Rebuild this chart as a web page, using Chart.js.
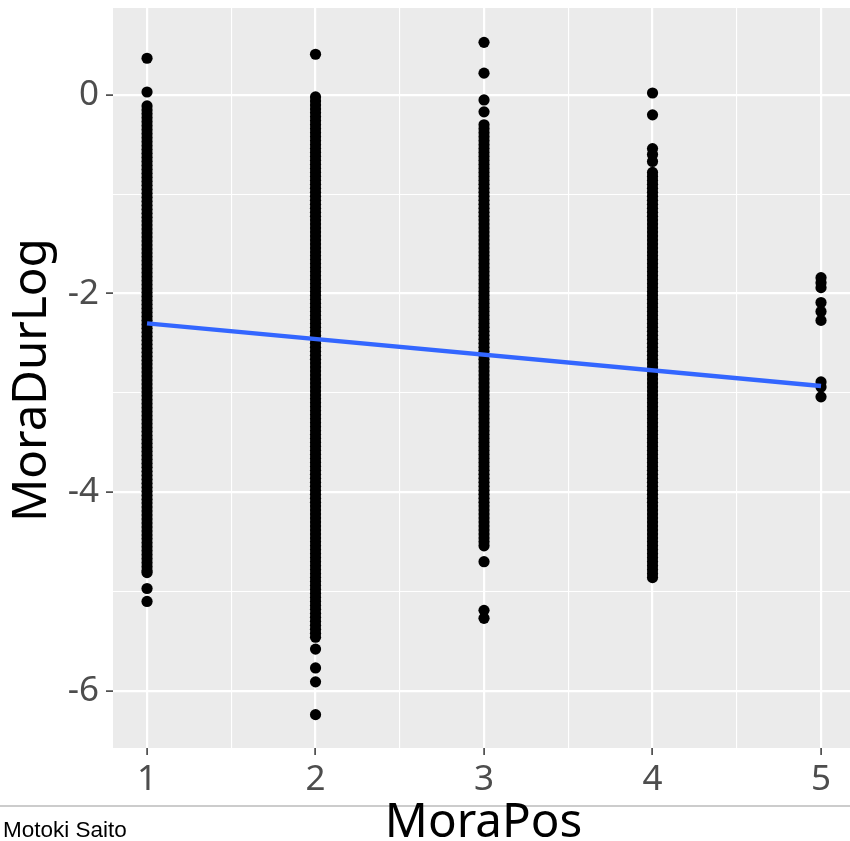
<!DOCTYPE html>
<html>
<head>
<meta charset="utf-8">
<script src="https://cdn.jsdelivr.net/npm/chart.js@4.4.0/dist/chart.umd.min.js"></script>
<style>
  html, body { margin: 0; padding: 0; background: #ffffff; }
  canvas { display: block; }
</style>
</head>
<body>
<canvas id="c" width="850" height="841"></canvas>
<script>
// ---- data ----
const categories = [1, 2, 3, 4, 5];
const moraPos1 = [0.37, 0.03, -0.11, -0.15, -0.19, -0.23, -0.27, -0.31, -0.35, -0.39, -0.43, -0.47, -0.51, -0.55, -0.59, -0.63, -0.67, -0.71, -0.75, -0.79, -0.83, -0.87, -0.91, -0.95, -0.99, -1.03, -1.07, -1.11, -1.15, -1.19, -1.23, -1.27, -1.31, -1.35, -1.39, -1.43, -1.47, -1.51, -1.55, -1.59, -1.63, -1.67, -1.71, -1.75, -1.79, -1.83, -1.87, -1.91, -1.95, -1.99, -2.03, -2.07, -2.11, -2.15, -2.19, -2.23, -2.27, -2.31, -2.35, -2.39, -2.43, -2.47, -2.51, -2.55, -2.59, -2.63, -2.67, -2.71, -2.75, -2.79, -2.83, -2.87, -2.91, -2.95, -2.99, -3.03, -3.07, -3.11, -3.15, -3.19, -3.23, -3.27, -3.31, -3.35, -3.39, -3.43, -3.47, -3.51, -3.55, -3.59, -3.63, -3.67, -3.71, -3.75, -3.79, -3.83, -3.87, -3.91, -3.95, -3.99, -4.03, -4.07, -4.11, -4.15, -4.19, -4.23, -4.27, -4.31, -4.35, -4.39, -4.43, -4.47, -4.51, -4.55, -4.59, -4.63, -4.67, -4.71, -4.75, -4.79, -4.81, -4.97, -5.10];
const moraPos2 = [0.41, -0.02, -0.06, -0.1, -0.14, -0.18, -0.22, -0.26, -0.3, -0.34, -0.38, -0.42, -0.46, -0.5, -0.54, -0.58, -0.62, -0.66, -0.7, -0.74, -0.78, -0.82, -0.86, -0.9, -0.94, -0.98, -1.02, -1.06, -1.1, -1.14, -1.18, -1.22, -1.26, -1.3, -1.34, -1.38, -1.42, -1.46, -1.5, -1.54, -1.58, -1.62, -1.66, -1.7, -1.74, -1.78, -1.82, -1.86, -1.9, -1.94, -1.98, -2.02, -2.06, -2.1, -2.14, -2.18, -2.22, -2.26, -2.3, -2.34, -2.38, -2.42, -2.46, -2.5, -2.54, -2.58, -2.62, -2.66, -2.7, -2.74, -2.78, -2.82, -2.86, -2.9, -2.94, -2.98, -3.02, -3.06, -3.1, -3.14, -3.18, -3.22, -3.26, -3.3, -3.34, -3.38, -3.42, -3.46, -3.5, -3.54, -3.58, -3.62, -3.66, -3.7, -3.74, -3.78, -3.82, -3.86, -3.9, -3.94, -3.98, -4.02, -4.06, -4.1, -4.14, -4.18, -4.22, -4.26, -4.3, -4.34, -4.38, -4.42, -4.46, -4.5, -4.54, -4.58, -4.62, -4.66, -4.7, -4.74, -4.78, -4.82, -4.86, -4.9, -4.94, -4.98, -5.02, -5.06, -5.1, -5.14, -5.18, -5.22, -5.26, -5.3, -5.34, -5.38, -5.42, -5.46, -5.58, -5.77, -5.91, -6.24];
const moraPos3 = [0.53, 0.22, -0.05, -0.17, -0.3, -0.34, -0.38, -0.42, -0.46, -0.5, -0.54, -0.58, -0.62, -0.66, -0.7, -0.74, -0.78, -0.82, -0.86, -0.9, -0.94, -0.98, -1.02, -1.06, -1.1, -1.14, -1.18, -1.22, -1.26, -1.3, -1.34, -1.38, -1.42, -1.46, -1.5, -1.54, -1.58, -1.62, -1.66, -1.7, -1.74, -1.78, -1.82, -1.86, -1.9, -1.94, -1.98, -2.02, -2.06, -2.1, -2.14, -2.18, -2.22, -2.26, -2.3, -2.34, -2.38, -2.42, -2.46, -2.5, -2.54, -2.58, -2.62, -2.66, -2.7, -2.74, -2.78, -2.82, -2.86, -2.9, -2.94, -2.98, -3.02, -3.06, -3.1, -3.14, -3.18, -3.22, -3.26, -3.3, -3.34, -3.38, -3.42, -3.46, -3.5, -3.54, -3.58, -3.62, -3.66, -3.7, -3.74, -3.78, -3.82, -3.86, -3.9, -3.94, -3.98, -4.02, -4.06, -4.1, -4.14, -4.18, -4.22, -4.26, -4.3, -4.34, -4.38, -4.42, -4.46, -4.5, -4.54, -4.70, -5.19, -5.27];
const moraPos4 = [0.02, -0.2, -0.54, -0.6, -0.67, -0.78, -0.82, -0.86, -0.9, -0.94, -0.98, -1.02, -1.06, -1.1, -1.14, -1.18, -1.22, -1.26, -1.3, -1.34, -1.38, -1.42, -1.46, -1.5, -1.54, -1.58, -1.62, -1.66, -1.7, -1.74, -1.78, -1.82, -1.86, -1.9, -1.94, -1.98, -2.02, -2.06, -2.1, -2.14, -2.18, -2.22, -2.26, -2.3, -2.34, -2.38, -2.42, -2.46, -2.5, -2.54, -2.58, -2.62, -2.66, -2.7, -2.74, -2.78, -2.82, -2.86, -2.9, -2.94, -2.98, -3.02, -3.06, -3.1, -3.14, -3.18, -3.22, -3.26, -3.3, -3.34, -3.38, -3.42, -3.46, -3.5, -3.54, -3.58, -3.62, -3.66, -3.7, -3.74, -3.78, -3.82, -3.86, -3.9, -3.94, -3.98, -4.02, -4.06, -4.1, -4.14, -4.18, -4.22, -4.26, -4.3, -4.34, -4.38, -4.42, -4.46, -4.5, -4.54, -4.58, -4.62, -4.66, -4.7, -4.74, -4.78, -4.82, -4.86];
const moraPos5 = [-1.84, -1.89, -1.94, -2.09, -2.18, -2.27, -2.89, -2.94, -3.04];
const seriesValues = [moraPos1, moraPos2, moraPos3, moraPos4, moraPos5];
const fitX = [1, 5];
const fitY = [-2.30, -2.93];
const xTickValues = [1, 1.5, 2, 2.5, 3, 3.5, 4, 4.5, 5];
const yTickValues = [-6, -5, -4, -3, -2, -1, 0];
const xTitle = 'MoraPos';
const yTitle = 'MoraDurLog';
const caption = 'Motoki Saito';

// ---- build points ----
const points = [];
categories.forEach((cat, i) => {
  seriesValues[i].forEach(v => points.push({ x: cat, y: v }));
});
const fitLine = fitX.map((x, i) => ({ x: x, y: fitY[i] }));

const FONT = "'Noto Sans', 'Open Sans', sans-serif";

const decorPlugin = {
  id: 'decor',
  beforeDraw(chart) {
    const ctx = chart.ctx;
    const a = chart.chartArea;
    ctx.save();
    ctx.fillStyle = '#ffffff';
    ctx.fillRect(0, 0, chart.width, chart.height);
    ctx.fillStyle = '#EBEBEB';
    ctx.fillRect(a.left, a.top, a.right - a.left, a.bottom - a.top);
    ctx.restore();
  },
  afterDraw(chart) {
    const ctx = chart.ctx;
    const a = chart.chartArea;
    ctx.save();
    // footer rule
    ctx.strokeStyle = '#CCCCCC';
    ctx.lineWidth = 2;
    ctx.beginPath();
    ctx.moveTo(0, 806);
    ctx.lineTo(chart.width, 806);
    ctx.stroke();
    // caption
    ctx.fillStyle = '#000000';
    ctx.font = "22.5px 'Liberation Sans', Arial, sans-serif";
    ctx.textAlign = 'left';
    ctx.textBaseline = 'alphabetic';
    ctx.fillText(caption, 3, 837);
    // x title
    ctx.font = '47.5px ' + FONT;
    ctx.textAlign = 'center';
    ctx.fillText(xTitle, (a.left + a.right) / 2 + 2, 837);
    // y title
    ctx.translate(46, (a.top + a.bottom) / 2 + 2);
    ctx.rotate(-Math.PI / 2);
    ctx.fillText(yTitle, 0, 0);
    ctx.restore();
  }
};

function noPad(scale) {
  scale.paddingTop = 0;
  scale.paddingBottom = 0;
  scale.paddingLeft = 0;
  scale.paddingRight = 0;
}

new Chart(document.getElementById('c'), {
  data: {
    datasets: [
      {
        type: 'line',
        data: fitLine,
        borderColor: '#3366FF',
        borderWidth: 4.5,
        pointRadius: 0,
        fill: false,
        order: 0
      },
      {
        type: 'scatter',
        data: points,
        backgroundColor: '#000000',
        borderColor: '#000000',
        borderWidth: 0,
        pointRadius: 5.6,
        order: 1
      }
    ]
  },
  options: {
    responsive: false,
    animation: false,
    devicePixelRatio: 1,
    layout: { autoPadding: false, padding: { top: 8, right: 0, left: 0, bottom: 0 } },
    plugins: { legend: { display: false }, tooltip: { enabled: false } },
    scales: {
      x: {
        type: 'linear',
        min: 0.798,
        max: 5.172,
        afterBuildTicks(scale) { scale.ticks = xTickValues.map(v => ({ value: v })); },
        afterFit(scale) { scale.height = 93; noPad(scale); },
        border: { display: false },
        grid: {
          color: '#FFFFFF',
          lineWidth: c => (Number.isInteger(c.tick.value) ? 2.2 : 1.1),
          tickColor: c => (Number.isInteger(c.tick.value) ? '#333333' : 'rgba(0,0,0,0)'),
          tickLength: 7,
          tickWidth: 1.5
        },
        ticks: {
          autoSkip: false,
          maxRotation: 0,
          padding: 4,
          color: '#4D4D4D',
          font: { family: FONT, size: 35 },
          callback: v => (Number.isInteger(v) ? String(v) : '')
        }
      },
      y: {
        type: 'linear',
        min: -6.576,
        max: 0.876,
        afterBuildTicks(scale) { scale.ticks = yTickValues.map(v => ({ value: v })); },
        afterFit(scale) { scale.width = 113; noPad(scale); },
        border: { display: false },
        grid: {
          color: '#FFFFFF',
          lineWidth: c => (c.tick.value % 2 === 0 ? 2.2 : 1.1),
          tickColor: c => (c.tick.value % 2 === 0 ? '#333333' : 'rgba(0,0,0,0)'),
          tickLength: 7,
          tickWidth: 1.5
        },
        ticks: {
          autoSkip: false,
          padding: 7,
          color: '#4D4D4D',
          font: { family: FONT, size: 35 },
          callback: v => (v % 2 === 0 ? String(v) : '')
        }
      }
    }
  },
  plugins: [decorPlugin]
});
</script>
</body>
</html>
